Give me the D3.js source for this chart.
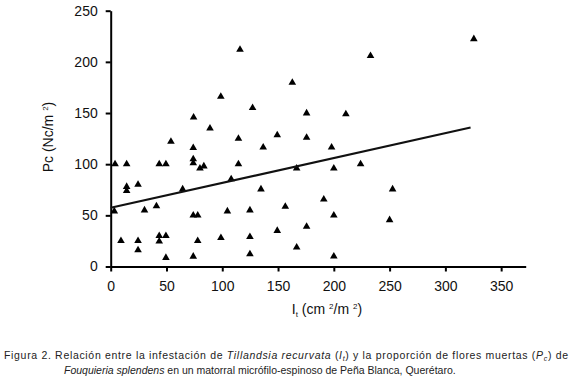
<!DOCTYPE html>
<html>
<head>
<meta charset="utf-8">
<script src="https://cdn.jsdelivr.net/npm/d3@7"></script>
<style>
  html, body { margin: 0; padding: 0; background: #fff; }
  svg { display: block; font-family: "Liberation Sans", Arial, sans-serif; }
</style>
</head>
<body>
<svg id="chart" width="572" height="381"></svg>
<script>
// Data: It (cm²/m²) vs Pc (Nc/m²)
const itValues = [3.9, 14.3, 14.3, 14.3, 24.5, 3.2, 30.3, 41, 43.5, 49.5, 54, 64.5, 74, 74, 74, 80, 83.5, 74, 78,
  9.2, 24.5, 24.5, 43.5, 49.5, 43.5, 78, 49.5, 74, 98.8, 104.6, 114.5, 114.5, 89, 108, 149.3, 175.6, 136.7, 198,
  166.7, 200, 224, 134.7, 252.7, 191, 124.8, 156.5, 200, 250, 124.8, 149.3, 175.6, 166.7, 124.8, 200, 115.9,
  162.8, 98.7, 127.2, 74.3, 325.5, 232.9, 175.6, 210.8];
const pcValues = [100, 100, 78, 74, 80, 54, 55, 59, 100, 100, 122, 75.5, 116, 105, 101, 96, 98, 50, 50,
  25, 25, 16, 30, 30, 24.5, 25, 8.6, 9.8, 28, 54, 125, 100, 135, 85.5, 128.5, 126, 116.5, 116.5,
  96, 96, 100, 75.5, 75.5, 65.7, 55, 58.5, 50, 45.5, 29, 35, 39, 18.8, 12.2, 10, 212,
  179.7, 166, 155, 145.7, 222.4, 205.8, 149.8, 149];
// Fitted line endpoints (It, Pc)
const fitIt = [0, 322.6];
const fitPc = [57.4, 135.8];
const xTicks = [0, 50, 100, 150, 200, 250, 300, 350];
const yTicks = [0, 50, 100, 150, 200, 250];

const svg = d3.select("#chart");
const x = d3.scaleLinear().domain([0, 372]).range([110.7, 525.7]);
const y = d3.scaleLinear().domain([0, 250]).range([266.5, 10.7]);

// Axes
const xAxis = svg.append("g")
  .attr("transform", `translate(0,${y(0)})`)
  .call(d3.axisBottom(x).tickValues(xTicks).tickSize(5).tickSizeOuter(0).tickPadding(10));
const yAxis = svg.append("g")
  .attr("transform", `translate(${x(0)},0)`)
  .call(d3.axisLeft(y).tickValues(yTicks).tickSize(5).tickSizeOuter(0).tickPadding(8));
[xAxis, yAxis].forEach(g => {
  g.select(".domain").attr("stroke", "#000").attr("stroke-width", 2);
  g.selectAll(".tick line").attr("stroke", "#000").attr("stroke-width", 2);
  g.selectAll(".tick text").attr("fill", "#111").style("font-size", "14px")
    .style("font-family", '"Liberation Sans", Arial, sans-serif');
});

// Points
const tri = d3.symbol().type(d3.symbolTriangle).size(25);
svg.append("g").selectAll("path").data(itValues.map((v, i) => [v, pcValues[i]]))
  .join("path")
  .attr("d", tri)
  .attr("transform", d => `translate(${x(d[0])},${y(d[1])})`)
  .attr("fill", "#000");

// Regression line
svg.append("line")
  .attr("x1", x(fitIt[0])).attr("y1", y(fitPc[0]))
  .attr("x2", x(fitIt[1])).attr("y2", y(fitPc[1]))
  .attr("stroke", "#111").attr("stroke-width", 2.2);

// Axis titles
const xt = svg.append("text").attr("x", 327).attr("y", 314).attr("text-anchor", "middle")
  .style("font-size", "14px").attr("fill", "#111");
xt.append("tspan").text("I");
xt.append("tspan").attr("dy", 3).style("font-size", "8px").text("t");
xt.append("tspan").attr("dy", -3).text(" (cm ");
xt.append("tspan").attr("dy", -5).style("font-size", "8px").text("2");
xt.append("tspan").attr("dy", 5).text("/m ");
xt.append("tspan").attr("dy", -5).style("font-size", "8px").text("2");
xt.append("tspan").attr("dy", 5).text(")");

const yt = svg.append("text").attr("transform", "translate(53,137) rotate(-90)")
  .attr("text-anchor", "middle").style("font-size", "14px").attr("fill", "#111");
yt.append("tspan").text("Pc (Nc/m ");
yt.append("tspan").attr("dy", -5).style("font-size", "8px").text("2");
yt.append("tspan").attr("dy", 5).text(")");

// Caption
const c1 = svg.append("text").attr("x", 4).attr("y", 359).style("font-size", "10.5px").attr("fill", "#222")
  .attr("textLength", 564).attr("lengthAdjust", "spacing");
c1.append("tspan").text("Figura 2. Relación entre la infestación de ");
c1.append("tspan").style("font-style", "italic").text("Tillandsia recurvata");
c1.append("tspan").text(" (");
c1.append("tspan").style("font-style", "italic").text("I");
c1.append("tspan").attr("dy", 2).style("font-size", "7px").style("font-style", "italic").text("t");
c1.append("tspan").attr("dy", -2).text(") y la proporción de flores muertas (");
c1.append("tspan").style("font-style", "italic").text("P");
c1.append("tspan").attr("dy", 2).style("font-size", "7px").style("font-style", "italic").text("c");
c1.append("tspan").attr("dy", -2).text(") de");

const c2 = svg.append("text").attr("x", 64).attr("y", 374).style("font-size", "10.5px").attr("fill", "#222");
c2.append("tspan").style("font-style", "italic").text("Fouquieria splendens");
c2.append("tspan").text(" en un matorral micrófilo-espinoso de Peña Blanca, Querétaro.");
</script>
</body>
</html>
